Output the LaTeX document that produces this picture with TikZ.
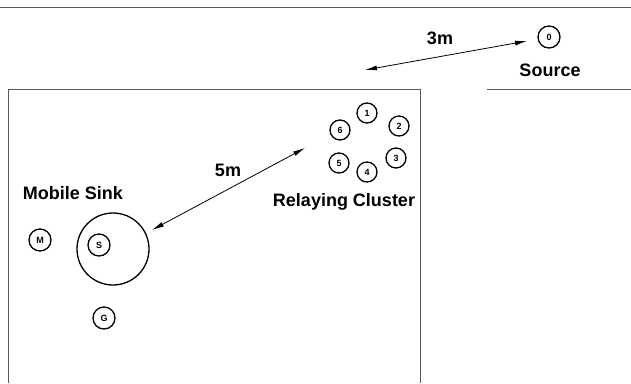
\documentclass[tikz,border=0pt]{standalone}
\usepackage{fontspec}
\setmainfont{Liberation Sans}
\usetikzlibrary{arrows.meta}
\begin{document}
\begin{tikzpicture}[x=1pt,y=-1pt,
 nd/.style={circle,draw,line width=1.3pt,inner sep=0pt,minimum size=22pt,font=\fontsize{9}{9}\selectfont\bfseries},
 cl/.style={nd,minimum size=20pt},
 lbl/.style={font=\fontsize{18}{18}\selectfont\bfseries,inner sep=0pt},
 frame/.style={draw=black!65,line width=0.9pt},
 dist/.style={{Latex[length=12pt,width=5pt]}-{Latex[length=12pt,width=5pt]},line width=0.8pt}]
\useasboundingbox (0,0) rectangle (631,383);
\draw[frame] (0,7) -- (631,7);
\draw[frame] (8,383) -- (8,89) -- (420,89) -- (420,383);
\draw[frame] (487,89) -- (631,89);
% source
\node[nd] (src) at (549,37) {0};
\node[lbl] (srcl) at (550,70) {Source};
\node[lbl] (d3) at (440,38) {3m};
\coordinate (a3s) at (365,70);
\coordinate (a3e) at (527,41);
\draw[dist] (a3s) -- (a3e);
% cluster
\node[cl] (n1) at (367,113) {1};
\node[cl] (n2) at (399,126) {2};
\node[cl] (n6) at (340,130) {6};
\node[cl] (n3) at (396,158) {3};
\node[cl] (n5) at (339,163) {5};
\node[cl] (n4) at (367,172) {4};
\node[lbl] (rc) at (344,202) {Relaying Cluster};
% sink
\node[lbl] (d5) at (228,170) {5m};
\node[lbl] (ms) at (73,193) {Mobile Sink};
\node[circle,draw,line width=1.3pt,minimum size=72pt,inner sep=0pt] (range) at (113,249) {};
\node[nd] (s) at (99,245) {S};
\node[nd] (m) at (40,240) {M};
\node[nd] (g) at (104,318) {G};
\coordinate (a5s) at (305,148);
\coordinate (a5e) at (152,230);
\draw[dist] (a5s) -- (a5e);
\end{tikzpicture}
\end{document}
